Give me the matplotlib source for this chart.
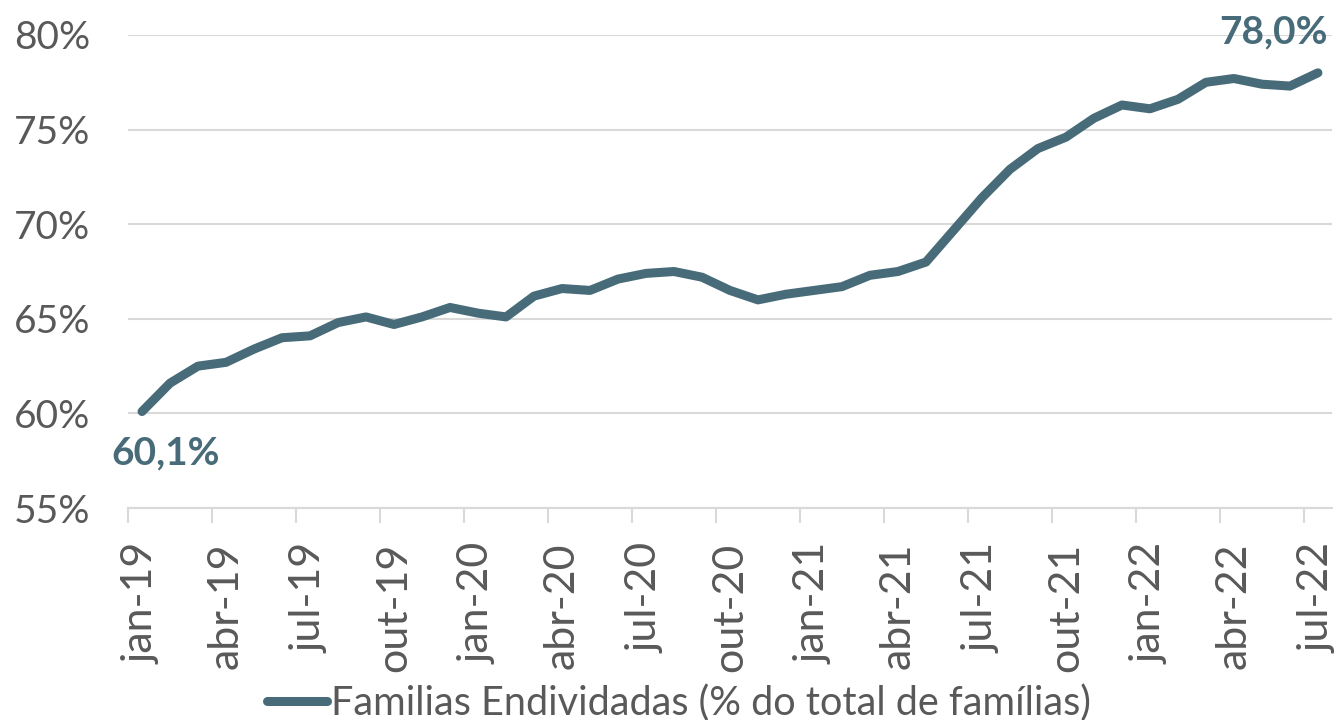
import matplotlib
matplotlib.use("Agg")
import matplotlib.pyplot as plt
from matplotlib.ticker import FixedLocator, FuncFormatter

plt.rcParams["font.family"] = ["Lato", "DejaVu Sans"]

# dados: famílias endividadas (% do total), jan-19 a jul-22
meses = ["jan", "fev", "mar", "abr", "mai", "jun", "jul", "ago", "set", "out", "nov", "dez"]
rotulos = [f"{meses[i % 12]}-{19 + i // 12}" for i in range(43)]
valores = [60.1, 61.6, 62.5, 62.7, 63.4, 64.0, 64.1, 64.8, 65.1, 64.7, 65.1, 65.6,
           65.3, 65.1, 66.2, 66.6, 66.5, 67.1, 67.4, 67.5, 67.2, 66.5, 66.0, 66.3,
           66.5, 66.7, 67.3, 67.5, 68.0, 69.7, 71.4, 72.9, 74.0, 74.6, 75.6, 76.3,
           76.1, 76.6, 77.5, 77.7, 77.4, 77.3, 78.0]
serie = "Familias Endividadas (% do total de famílias)"

cor = "#476B78"
cinza = "#595959"
grade = "#D9D9D9"

fig = plt.figure(figsize=(13.42, 7.2), dpi=100)
ax = fig.add_axes([0.0954, 0.2944, 0.8971, 0.6570])

x = list(range(len(valores)))
ax.plot(x, valores, color=cor, linewidth=6.5, solid_capstyle="round",
        solid_joinstyle="round", label=serie, zorder=3)

ax.set_xlim(-0.5, 42.5)
ax.set_ylim(55, 80)
ax.set_yticks([55, 60, 65, 70, 75, 80])
ax.yaxis.set_major_formatter(FuncFormatter(lambda v, p: f"{v:.0f}%"))
ax.grid(axis="y", color=grade, linewidth=1.5, zorder=0)
ax.tick_params(axis="y", length=0, labelsize=28, labelcolor=cinza, pad=27)

# rótulos a cada 3 meses, marcas nas divisões das categorias
ax.set_xticks(x[::3])
ax.set_xticklabels(rotulos[::3], rotation=90)
ax.xaxis.set_minor_locator(FixedLocator([i - 0.5 for i in x[::3]]))
ax.tick_params(axis="x", which="major", length=0, labelsize=31, labelcolor=cinza, pad=25)
ax.tick_params(axis="x", which="minor", length=11, color=grade, width=1.5)

for s in ["top", "right", "left"]:
    ax.spines[s].set_visible(False)
ax.spines["bottom"].set_color(grade)
ax.spines["bottom"].set_linewidth(1.5)

ax.annotate(f"{valores[0]:.1f}%".replace(".", ","), (x[0], valores[0]),
            xytext=(17, -30), textcoords="offset points", ha="center", va="center",
            fontsize=28, fontweight="bold", color=cor)
ax.annotate(f"{valores[-1]:.1f}%".replace(".", ","), (x[-1], valores[-1]),
            xytext=(-32, 29.5), textcoords="offset points", ha="center", va="center",
            fontsize=28, fontweight="bold", color=cor)

fig.legend(loc="center", bbox_to_anchor=(0.506, 0.024), frameon=False,
           fontsize=28.5, labelcolor=cinza, handlelength=1.5, handletextpad=0.1)

fig.savefig("out.png", dpi=100)
